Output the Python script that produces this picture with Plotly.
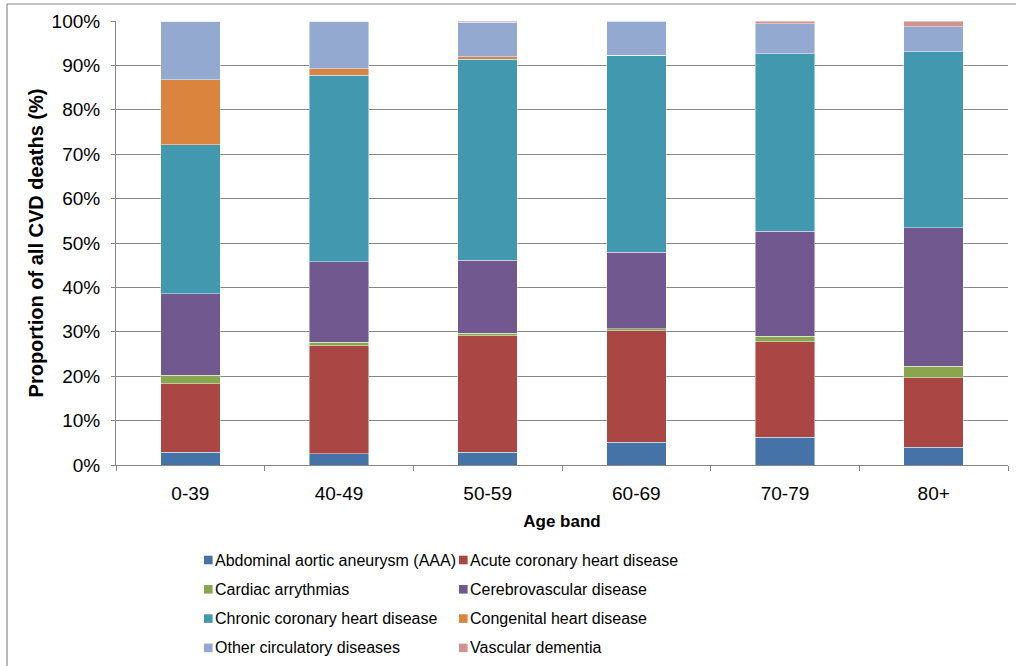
import plotly.graph_objects as go

# Age bands on the x axis
age_bands = ["0-39", "40-49", "50-59", "60-69", "70-79", "80+"]

# Share of all CVD deaths (%) by cause, per age band
aaa = [2.9, 2.5, 2.9, 5.1, 6.2, 4.0]
acute_chd = [15.4, 24.4, 26.2, 25.1, 21.6, 15.7]
arrhythmias = [1.9, 0.8, 0.6, 0.5, 1.2, 2.5]
cerebrovascular = [18.4, 18.1, 16.4, 17.2, 23.7, 31.2]
chronic_chd = [33.5, 42.0, 45.3, 44.4, 39.9, 39.7]
congenital = [14.7, 1.5, 0.6, 0.0, 0.0, 0.0]
other_circ = [13.2, 10.7, 7.7, 7.6, 6.8, 5.6]
vascular_dementia = [0.0, 0.0, 0.3, 0.2, 0.6, 1.3]

series = [
    ("Abdominal aortic aneurysm (AAA)", aaa, "#4572A7"),
    ("Acute coronary heart disease", acute_chd, "#AA4643"),
    ("Cardiac arrythmias", arrhythmias, "#89A54E"),
    ("Cerebrovascular disease", cerebrovascular, "#71588F"),
    ("Chronic coronary heart disease", chronic_chd, "#4198AF"),
    ("Congenital heart disease", congenital, "#DB843D"),
    ("Other circulatory diseases", other_circ, "#93A9CF"),
    ("Vascular dementia", vascular_dementia, "#D19392"),
]

FONT = "Liberation Sans, Arial, sans-serif"
GRID = "#878787"

# Plot area spans pixels x 116..1008, y 21..465 on a 1016x666 page
L, R, T, B = 116, 8, 21, 201
W, H = 1016, 666
pw, ph = W - L - R, H - T - B


def px_x(p):
    return (p - L) / pw


def px_y(p):
    return (H - B - p) / ph


fig = go.Figure()
for name, vals, color in series:
    fig.add_trace(go.Bar(
        x=age_bands,
        y=[v / 100 for v in vals],
        name=name,
        showlegend=False,
        marker=dict(color=color, line=dict(color="rgba(255,255,255,0.55)", width=0.8)),
    ))

# Two-column key under the axis title: small square swatch + label
shapes = []
annotations = []
col_swatch_x = [204, 459]
row_y0, row_step, sw = 560, 29.3, 8.6
for i, (name, _, color) in enumerate(series):
    col, row = i % 2, i // 2
    cy = row_y0 + row * row_step
    sx = col_swatch_x[col]
    shapes.append(dict(
        type="rect", xref="paper", yref="paper",
        x0=px_x(sx), x1=px_x(sx + sw), y0=px_y(cy - sw / 2), y1=px_y(cy + sw / 2),
        fillcolor=color, line=dict(width=0),
    ))
    annotations.append(dict(
        text=name, xref="paper", yref="paper",
        x=px_x(sx + sw + 1), y=px_y(cy), xanchor="left", yanchor="middle",
        showarrow=False, borderpad=0, font=dict(family=FONT, size=16, color="#000000"),
    ))

# chart frame: top and left edges
shapes += [
    dict(type="line", xref="paper", yref="paper",
         x0=px_x(7), x1=px_x(1030), y0=px_y(4), y1=px_y(4),
         line=dict(color="#8a8a8a", width=1.2)),
    dict(type="line", xref="paper", yref="paper",
         x0=px_x(7), x1=px_x(7), y0=px_y(4), y1=px_y(700),
         line=dict(color="#8a8a8a", width=1.2)),
]

fig.update_layout(
    width=W,
    height=H,
    margin=dict(l=L, r=R, t=T, b=B, pad=0),
    paper_bgcolor="white",
    plot_bgcolor="white",
    barmode="stack",
    bargap=0.6,
    showlegend=False,
    font=dict(family=FONT, size=19, color="#000000"),
    xaxis=dict(
        type="category",
        showline=True,
        linecolor=GRID,
        linewidth=1,
        ticks="outside",
        tickson="boundaries",
        ticklen=5,
        tickcolor=GRID,
        tickfont=dict(family=FONT, size=19),
        ticklabelstandoff=11,
        showgrid=False,
        title=dict(text="<b>Age band</b>", font=dict(family=FONT, size=17), standoff=12),
    ),
    yaxis=dict(
        range=[0, 1],
        tickformat=".0%",
        dtick=0.1,
        showline=True,
        linecolor=GRID,
        linewidth=1,
        ticks="outside",
        ticklen=4,
        tickcolor=GRID,
        tickfont=dict(family=FONT, size=19),
        ticklabelstandoff=7,
        showgrid=True,
        gridcolor=GRID,
        gridwidth=1,
        zeroline=False,
        title=dict(text="<b>Proportion of all CVD deaths (%)</b>", font=dict(family=FONT, size=20), standoff=2),
    ),
    shapes=shapes,
    annotations=annotations,
)

fig.write_html("out.html")
